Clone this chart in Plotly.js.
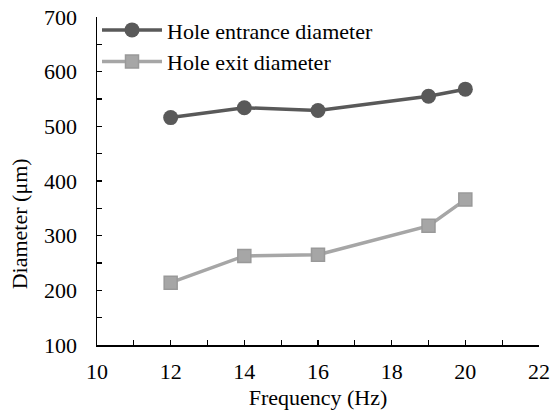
<!DOCTYPE html>
<html>
<head>
<meta charset="utf-8">
<script src="https://cdn.plot.ly/plotly-3.0.1.min.js"></script>
<style>html,body{margin:0;padding:0;background:#fff;}</style>
</head>
<body>
<div id="chart" style="width:554px;height:414px;"></div>
<script>
const frequency = [12, 14, 16, 19, 20];
const entranceDiameter = [516, 534, 529, 555, 568];
const exitDiameter = [214, 263, 265, 318, 366];
const seriesNames = ["Hole entrance diameter", "Hole exit diameter"];

const FONT = "Liberation Serif";

const traces = [
  {
    x: frequency, y: entranceDiameter, name: seriesNames[0],
    type: "scatter", mode: "lines+markers",
    line: {color: "#595959", width: 3.5},
    marker: {symbol: "circle", size: 15, color: "#595959"}
  },
  {
    x: frequency, y: exitDiameter, name: seriesNames[1],
    type: "scatter", mode: "lines+markers",
    line: {color: "#a6a6a6", width: 3.5},
    marker: {symbol: "square", size: 13, color: "#a6a6a6", line: {color: "#999999", width: 1.5}}
  }
];

const layout = {
  width: 554, height: 414,
  margin: {l: 97, r: 15, t: 17, b: 69, autoexpand: false},
  paper_bgcolor: "#fff", plot_bgcolor: "#fff",
  font: {family: FONT, size: 22, color: "#000"},
  showlegend: true,
  legend: {x: 0.0, y: 1.024, xanchor: "left", yanchor: "top", bgcolor: "rgba(0,0,0,0)",
           font: {family: FONT, size: 22, color: "#000"}, tracegroupgap: 0, itemwidth: 60},
  xaxis: {
    range: [10, 22], dtick: 2, tick0: 10,
    showline: true, linecolor: "#000", linewidth: 1.5, mirror: false,
    showgrid: false, zeroline: false,
    ticks: "inside", ticklen: 5, tickwidth: 1.3, tickcolor: "#000",
    minor: {dtick: 1, ticks: "inside", ticklen: 5, tickwidth: 1.3, tickcolor: "#000", showgrid: false},
    tickfont: {family: FONT, size: 22, color: "#000"},
    ticklabelstandoff: 6,
    title: {text: "Frequency (Hz)", font: {family: FONT, size: 22, color: "#000"}, standoff: 6}
  },
  yaxis: {
    range: [100, 700], dtick: 100, tick0: 100,
    showline: true, linecolor: "#000", linewidth: 1.5,
    showgrid: false, zeroline: false,
    ticks: "inside", ticklen: 5, tickwidth: 1.3, tickcolor: "#000",
    minor: {dtick: 50, ticks: "inside", ticklen: 5, tickwidth: 1.3, tickcolor: "#000", showgrid: false},
    tickfont: {family: FONT, size: 22, color: "#000"},
    ticklabelstandoff: 14
  },
  annotations: [{
    text: "Diameter (μm)", xref: "paper", yref: "paper",
    x: -0.175, y: 0.37, xanchor: "center", yanchor: "middle",
    textangle: -90, showarrow: false,
    font: {family: FONT, size: 22, color: "#000"}
  }]
};

Plotly.newPlot("chart", traces, layout, {displayModeBar: false, staticPlot: true});
</script>
</body>
</html>
